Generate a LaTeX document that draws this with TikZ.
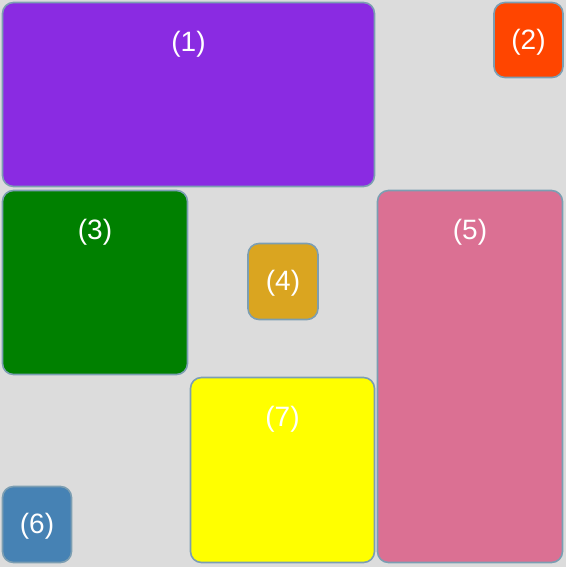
\documentclass[tikz,border=0pt]{standalone}
\usepackage{fontspec}
\setmainfont{Liberation Sans}
\usepackage{tikz}
\usetikzlibrary{calc,backgrounds}

\definecolor{bg}{HTML}{DCDCDC}
\definecolor{rim}{HTML}{7C9EB2}
\definecolor{violet1}{HTML}{8A2BE2}
\definecolor{orange2}{HTML}{FF4500}
\definecolor{green3}{HTML}{008000}
\definecolor{gold4}{HTML}{DAA520}
\definecolor{pink5}{HTML}{DB7093}
\definecolor{blue6}{HTML}{4682B4}
\definecolor{yellow7}{HTML}{FFFF00}

\begin{document}
\begin{tikzpicture}[x=1pt,y=-1pt,
  box/.style={draw=rim,line width=1.6pt,rounded corners=11pt,anchor=north west,
    inner sep=0pt,outer sep=0pt,text=white,font=\fontsize{28}{32}\selectfont,
    text depth=2pt},
  toplabel/.style={label={[anchor=center,yshift=-42pt,text=white,
    font=\fontsize{28}{32}\selectfont]north:#1}}]
\fill[bg] (0,0) rectangle (566,567);
\useasboundingbox (0,0) rectangle (566,567);

\node[box,fill=violet1,minimum width=372pt,minimum height=184pt,toplabel={(1)}] (B1) at (2.5,2.5) {};
\node[box,fill=orange2,minimum width=69pt,minimum height=75pt] (B2) at (494,2.5) {(2)};
\node[box,fill=green3,minimum width=185pt,minimum height=184pt,toplabel={(3)}] (B3) at (2.5,190.5) {};
\node[box,fill=gold4,minimum width=70pt,minimum height=76pt] (B4) at (248,243.5) {(4)};
\node[box,fill=pink5,minimum width=185pt,minimum height=372pt,toplabel={(5)}] (B5) at (377.5,190.5) {};
\node[box,fill=blue6,minimum width=69pt,minimum height=76pt] (B6) at (2.5,486.5) {(6)};
\node[box,fill=yellow7,minimum width=184pt,minimum height=185pt,toplabel={(7)}] (B7) at (190.5,377.5) {};
\end{tikzpicture}
\end{document}
